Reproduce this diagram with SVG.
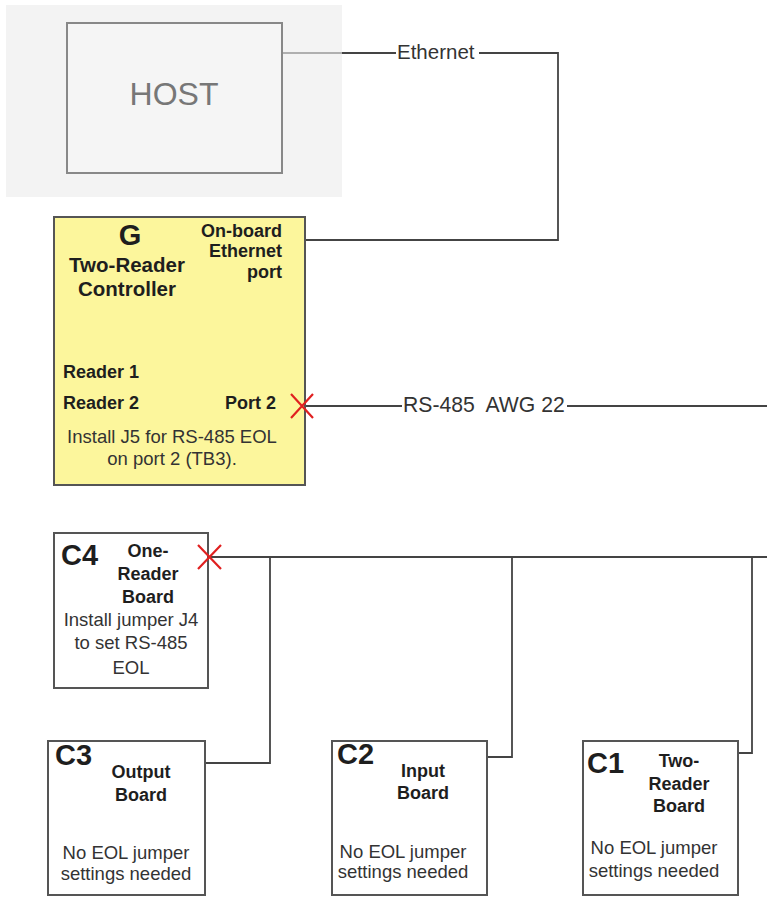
<svg xmlns="http://www.w3.org/2000/svg" width="767" height="897" viewBox="0 0 767 897">
<style>
text{font-family:"Liberation Sans",Arial,sans-serif}
.b{font-weight:bold;fill:#1e1e1e}
.n{fill:#333;font-size:18.5px}
.s{font-size:18px}
.big{font-size:29px}
.box{fill:#fff;stroke:#555;stroke-width:2}
.wire{fill:none;stroke:#444;stroke-width:1.8}
.x{stroke:#e02020;stroke-width:2.2}
.lbl{fill:#333;font-size:20.5px}
</style>
<rect width="767" height="897" fill="#fff"/>
<g id="host">
<rect x="6" y="5" width="336" height="192" fill="#f3f3f3"/>
<rect x="67" y="23" width="215" height="150" fill="#f5f5f5" stroke="#888" stroke-width="2"/>
<text x="174" y="105" text-anchor="middle" font-size="32" fill="#777">HOST</text>
</g>
<g id="connectors">
<path d="M283 53H342" stroke="#999" stroke-width="1.5"/>
<path class="wire" d="M342 53H558V240H305"/>
<rect x="396" y="40" width="83" height="24" fill="#fff"/>
<text class="lbl" x="397" y="59">Ethernet</text>
<path class="wire" d="M305 406H767"/>
<rect x="402" y="394" width="165" height="24" fill="#fff"/>
<text class="lbl" x="403" y="412" style="font-size:21.2px" xml:space="preserve">RS-485  AWG 22</text>
<path class="wire" d="M209 557H767"/>
<path class="wire" d="M270 557V763H205"/>
<path class="wire" d="M512 557V757H487"/>
<path class="wire" d="M752 557V753H738"/>
</g>
<g id="controller-G">
<rect x="54" y="217" width="251" height="268" fill="#fcf69c" stroke="#555" stroke-width="2"/>
<text class="b big" x="130" y="245" text-anchor="middle">G</text>
<text class="b" x="127" y="272" text-anchor="middle" font-size="20.5">Two-Reader</text>
<text class="b" x="127" y="296" text-anchor="middle" font-size="20.5">Controller</text>
<text class="b s" x="282" y="237" text-anchor="end">On-board</text>
<text class="b s" x="282" y="257" text-anchor="end">Ethernet</text>
<text class="b s" x="282" y="278" text-anchor="end">port</text>
<text class="b s" x="63" y="378">Reader 1</text>
<text class="b s" x="63" y="409">Reader 2</text>
<text class="b s" x="276" y="409" text-anchor="end">Port 2</text>
<text class="n" x="172" y="443" text-anchor="middle">Install J5 for RS-485 EOL</text>
<text class="n" x="172" y="465" text-anchor="middle">on port 2 (TB3).</text>
<path class="x" d="M291 394L313 418M313 394L291 418"/>
</g>
<g id="C4">
<rect class="box" x="54" y="533" width="154" height="155"/>
<text class="b big" x="61" y="565">C4</text>
<text class="b s" x="148" y="557" text-anchor="middle">One-</text>
<text class="b s" x="148" y="580" text-anchor="middle">Reader</text>
<text class="b s" x="148" y="603" text-anchor="middle">Board</text>
<text class="n" x="131" y="626" text-anchor="middle">Install jumper J4</text>
<text class="n" x="131" y="649" text-anchor="middle">to set RS-485</text>
<text class="n" x="131" y="674" text-anchor="middle">EOL</text>
<path class="x" d="M198 545L221 569M221 545L198 569"/>
</g>
<g id="C3">
<rect class="box" x="48" y="741" width="157" height="154"/>
<text class="b big" x="55" y="765">C3</text>
<text class="b s" x="141" y="778" text-anchor="middle">Output</text>
<text class="b s" x="141" y="801" text-anchor="middle">Board</text>
<text class="n" x="126" y="859" text-anchor="middle">No EOL jumper</text>
<text class="n" x="126" y="880" text-anchor="middle">settings needed</text>
</g>
<g id="C2">
<rect class="box" x="332" y="741" width="155" height="154"/>
<text class="b big" x="337" y="764">C2</text>
<text class="b s" x="423" y="777" text-anchor="middle">Input</text>
<text class="b s" x="423" y="799" text-anchor="middle">Board</text>
<text class="n" x="403" y="858" text-anchor="middle">No EOL jumper</text>
<text class="n" x="403" y="878" text-anchor="middle">settings needed</text>
</g>
<g id="C1">
<rect class="box" x="583" y="741" width="155" height="154"/>
<text class="b big" x="587" y="773">C1</text>
<text class="b s" x="679" y="767" text-anchor="middle">Two-</text>
<text class="b s" x="679" y="790" text-anchor="middle">Reader</text>
<text class="b s" x="679" y="812" text-anchor="middle">Board</text>
<text class="n" x="654" y="854" text-anchor="middle">No EOL jumper</text>
<text class="n" x="654" y="877" text-anchor="middle">settings needed</text>
</g>
</svg>
